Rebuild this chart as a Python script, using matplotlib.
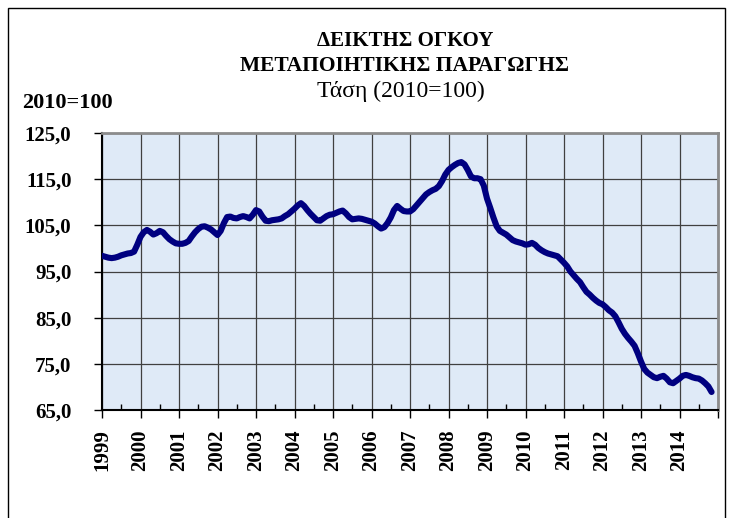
import numpy as np
import matplotlib.pyplot as plt
from matplotlib.patches import Rectangle
from matplotlib.ticker import FixedLocator, FuncFormatter

# monthly trend values, Jan 1999 .. Nov 2014
values = {
    1999: [98.4, 98.2, 98.0, 97.9, 98.0, 98.2, 98.5, 98.7, 98.9, 99.0, 99.3, 100.8],
    2000: [102.5, 103.5, 104.0, 103.6, 103.0, 103.3, 103.8, 103.5, 102.7, 102.0, 101.5, 101.1],
    2001: [101.0, 101.0, 101.2, 101.6, 102.6, 103.5, 104.2, 104.7, 104.8, 104.5, 104.1, 103.5],
    2002: [102.9, 103.8, 105.5, 106.8, 106.9, 106.6, 106.5, 106.8, 107.0, 106.8, 106.5, 107.3],
    2003: [108.3, 108.0, 106.9, 106.0, 105.9, 106.1, 106.2, 106.3, 106.5, 107.0, 107.4, 108.0],
    2004: [108.6, 109.3, 109.8, 109.2, 108.3, 107.5, 106.8, 106.1, 106.0, 106.5, 107.0, 107.3],
    2005: [107.4, 107.7, 108.0, 108.2, 107.6, 106.8, 106.3, 106.4, 106.5, 106.4, 106.2, 106.0],
    2006: [105.8, 105.4, 104.8, 104.3, 104.6, 105.5, 106.7, 108.3, 109.2, 108.6, 108.1, 108.0],
    2007: [108.0, 108.5, 109.3, 110.1, 110.9, 111.7, 112.2, 112.6, 112.9, 113.5, 114.6, 116.0],
    2008: [117.0, 117.6, 118.1, 118.5, 118.7, 118.2, 117.0, 115.6, 115.2, 115.2, 115.0, 113.6],
    2009: [110.8, 108.8, 106.7, 104.8, 103.8, 103.4, 103.0, 102.4, 101.8, 101.5, 101.3, 101.1],
    2010: [100.8, 100.9, 101.2, 100.8, 100.1, 99.6, 99.2, 98.9, 98.7, 98.5, 98.3, 97.6],
    2011: [96.9, 96.1, 95.0, 94.2, 93.4, 92.7, 91.6, 90.6, 90.0, 89.3, 88.7, 88.2],
    2012: [87.9, 87.3, 86.6, 86.1, 85.3, 84.0, 82.6, 81.5, 80.6, 79.8, 78.9, 77.3],
    2013: [75.5, 73.9, 73.1, 72.6, 72.1, 71.9, 72.2, 72.4, 71.8, 71.0, 70.8, 71.3],
    2014: [71.8, 72.4, 72.6, 72.4, 72.1, 71.9, 71.8, 71.4, 70.8, 70.1, 68.9],
}
years = list(range(1999, 2015))
year_labels = [str(y) for y in years]
yticks = [65, 75, 85, 95, 105, 115, 125]

t = []
v = []
for yr in years:
    for m, val in enumerate(values[yr]):
        t.append(yr + m / 12)
        v.append(val)

plt.rcParams['font.family'] = ['Liberation Serif', 'DejaVu Serif']

fig = plt.figure(figsize=(7.32, 5.18), dpi=100)
# outer chart frame (bottom edge falls outside the image)
fig.patches.append(Rectangle((8/732, -0.1), (725-8)/732, 1.1 - 8/518,
                             transform=fig.transFigure, fill=False,
                             edgecolor='black', linewidth=1.0))

ax = fig.add_axes([102/732, 108/518, 616/732, 277/518])
ax.set_facecolor('#dfeaf7')

ax.plot(t, v, color='#000080', linewidth=4.4, solid_capstyle='round', zorder=3)

ax.set_xlim(1999, 2015)
ax.set_ylim(65, 125)
ax.xaxis.set_major_locator(FixedLocator(list(range(1999, 2016))))
ax.xaxis.set_minor_locator(FixedLocator([y + 0.5 for y in range(1999, 2015)]))
ax.set_xticklabels(year_labels + [''], rotation=90, fontweight='bold', fontsize=15)
ax.set_yticks(yticks)
ax.yaxis.set_major_formatter(FuncFormatter(lambda x, p: f"{x:.1f}".replace('.', ',')))
for lbl in ax.get_yticklabels():
    lbl.set_fontweight('bold')
    lbl.set_fontsize(15)

ax.tick_params(axis='x', which='major', direction='out', length=6, width=1, pad=8)
ax.tick_params(axis='x', which='minor', direction='in', length=4, width=1)
ax.tick_params(axis='y', which='major', direction='out', length=6, width=1, pad=16)

ax.grid(True, which='major', color='#404040', linewidth=0.9)
ax.set_axisbelow(True)
for s in ['top', 'right']:
    ax.spines[s].set_color('#8c8c8c')
    ax.spines[s].set_linewidth(2)
for s in ['left', 'bottom']:
    ax.spines[s].set_color('black')
    ax.spines[s].set_linewidth(1.5)

fig.text(405/732, 1 - 41/518, 'ΔΕΙΚΤΗΣ ΟΓΚΟΥ', ha='center', va='center',
         fontsize=15, fontweight='bold')
fig.text(405/732, 1 - 66/518, 'ΜΕΤΑΠΟΙΗΤΙΚΗΣ ΠΑΡΑΓΩΓΗΣ', ha='center', va='center',
         fontsize=15.5, fontweight='bold')
fig.text(401/732, 1 - 91/518, 'Τάση (2010=100)', ha='center', va='center',
         fontsize=17)
fig.text(22/732, 1 - 103/518, '2010=100', ha='left', va='center',
         fontsize=16, fontweight='bold')

fig.savefig('out.png', dpi=100)
